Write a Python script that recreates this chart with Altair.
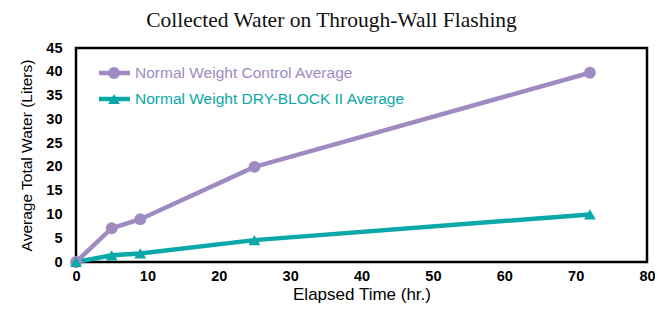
import altair as alt
import pandas as pd

series_names = ["Normal Weight Control Average", "Normal Weight DRY-BLOCK II Average"]
hours = [0, 5, 9, 25, 72]
control = [0, 7.1, 9.0, 20.0, 39.8]
dryblock = [0, 1.4, 1.8, 4.6, 10.0]
colors = ["#9f8ac2", "#0aa8a8"]
shapes = ["circle", "triangle-up"]

rows = []
for h, c, d in zip(hours, control, dryblock):
    rows.append({"hours": h, "water": c, "series": series_names[0]})
    rows.append({"hours": h, "water": d, "series": series_names[1]})
df = pd.DataFrame(rows)

lab = dict(labelFontWeight="bold", labelFontSize=14.5, labelFont="Liberation Sans",
           labelColor="#000", titleFont="Liberation Sans", titleFontWeight="normal",
           titleColor="#000", grid=False, ticks=False, domain=False)
xs = alt.X("hours:Q", scale=alt.Scale(domain=[0, 80], nice=False),
           axis=alt.Axis(values=list(range(0, 81, 10)), title="Elapsed Time (hr.)",
                         labelPadding=7, labelFlush=False, titleFontSize=17, titleY=37,
                         titleBaseline="alphabetic", **lab))
ys = alt.Y("water:Q", scale=alt.Scale(domain=[0, 45], nice=False),
           axis=alt.Axis(values=list(range(0, 46, 5)), title="Average Total Water (Liters)",
                         labelPadding=14, titleFontSize=15.5, titlePadding=11, **lab))
color = alt.Color("series:N", scale=alt.Scale(domain=series_names, range=colors), legend=None)
shape = alt.Shape("series:N", scale=alt.Scale(domain=series_names, range=shapes), legend=None)

lines = alt.Chart(df).mark_line(strokeWidth=4.5).encode(x=xs, y=ys, color=color)
points = alt.Chart(df).mark_point(filled=True, size=140, opacity=1).encode(
    x=xs, y=ys, color=color, shape=shape)

leg = pd.DataFrame({"series": series_names})
leg_rows = [25, 51]
leg_layers = []
for name, ly in zip(series_names, leg_rows):
    base = alt.Chart(leg).transform_filter(alt.datum.series == name)
    leg_layers.append(base.mark_rule(strokeWidth=4.5).encode(
        x=alt.value(23), x2=alt.value(54), y=alt.value(ly), color=color))
    leg_layers.append(base.mark_point(filled=True, size=140, opacity=1).encode(
        x=alt.value(38), y=alt.value(ly), color=color, shape=shape))
    leg_layers.append(base.mark_text(align="left", baseline="middle", fontSize=15.5,
                                     font="Liberation Sans").encode(
        x=alt.value(59), y=alt.value(ly), text="series:N", color=color))

chart = alt.layer(lines, points, *leg_layers).properties(
    width=571, height=214,
    autosize=alt.AutoSizeParams(type="none"),
    padding={"left": 68, "top": 40, "right": 8, "bottom": 41},
    title=alt.TitleParams("Collected Water on Through-Wall Flashing", font="Liberation Serif",
                          fontSize=21.5, fontWeight="normal", color="#111", anchor="middle",
                          dx=-30, offset=9),
).configure_view(stroke="#000", strokeWidth=2.5)

chart.save("out.html", embed_options={"renderer": "svg", "actions": False})
